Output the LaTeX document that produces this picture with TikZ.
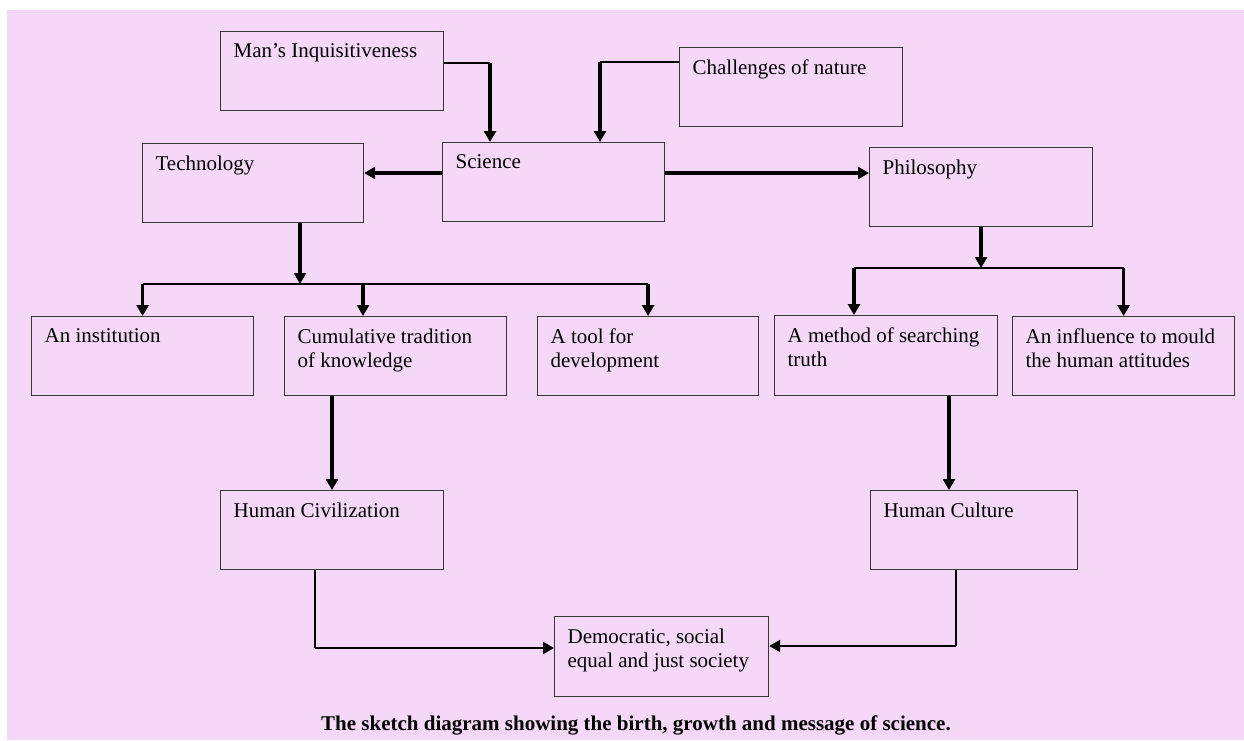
\documentclass[tikz,border=0pt]{standalone}
\usepackage{fontspec}
\setmainfont{Liberation Serif}
\usetikzlibrary{arrows.meta,calc}
\definecolor{bgpink}{RGB}{245,216,248}
\definecolor{boxc}{RGB}{55,55,55}
\newcommand{\bxt}[3]{\parbox[t][#2][t]{#1}{\vspace*{12pt}\leftskip=13pt\relax\parindent=0pt\rule{0pt}{14pt}#3}}
\begin{document}
\begin{tikzpicture}[x=1pt,y=-1pt,
  bx/.style={draw=boxc, line width=1.2pt, inner sep=0pt, anchor=north west, font=\fontsize{21}{24}\selectfont},
  thk/.style={line width=3.4pt, -{Triangle[length=11pt,width=12pt]}},
  thn/.style={line width=1.4pt},
  thna/.style={line width=2.2pt, -{Triangle[length=11pt,width=12pt]}}]
\fill[white] (0,0) rectangle (1244,740);
\fill[bgpink] (7,10) rectangle (1244,740);
\useasboundingbox (0,0) rectangle (1244,740);

\node[bx] (man) at (220,31) {\bxt{223pt}{79pt}{Man’s Inquisitiveness}};
\node[bx] (chal) at (679,47) {\bxt{223pt}{79pt}{Challenges of nature}};
\node[bx] (sci) at (442,142) {\bxt{222pt}{79pt}{Science}};
\node[bx] (tech) at (142,143) {\bxt{221pt}{79pt}{Technology}};
\node[bx] (phil) at (869,147) {\bxt{223pt}{79pt}{Philosophy}};
\node[bx] (inst) at (31,316) {\bxt{222pt}{79pt}{An institution}};
\node[bx] (cum) at (284,316) {\bxt{222pt}{79pt}{Cumulative tradition\\of knowledge}};
\node[bx] (tool) at (537,316) {\bxt{221pt}{79pt}{A tool for\\development}};
\node[bx] (meth) at (774,315) {\bxt{223pt}{80pt}{A method of searching\\truth}};
\node[bx] (infl) at (1012,316) {\bxt{222pt}{79pt}{An influence to mould\\the human attitudes}};
\node[bx] (civ) at (220,490) {\bxt{223pt}{79pt}{Human Civilization}};
\node[bx] (cult) at (870,490) {\bxt{207pt}{79pt}{Human Culture}};
\node[bx] (dem) at (554,616) {\bxt{214pt}{80pt}{Democratic, social\\equal and just society}};

\node[font=\bfseries\fontsize{21}{24}\selectfont, anchor=base, inner sep=0pt] (cap) at (636,730) {The sketch diagram showing the birth, growth and message of science.};

% inputs to science
\coordinate (j1) at (490,63);
\draw[thn] (man.east |- j1) -- (j1);
\draw[thk] (j1) -- (j1 |- sci.north);
\coordinate (j2) at (600,62);
\draw[thn] (chal.west |- j2) -- (j2);
\draw[thk] (j2) -- (j2 |- sci.north);
% science outputs
\coordinate (j3) at (553,173);
\draw[thk] (sci.west |- j3) -- (tech.east |- j3);
\draw[thk] (sci.east |- j3) -- (phil.west |- j3);
% technology bus
\coordinate (tb) at (300,284);
\draw[thk] (tech.south -| tb) -- (tb);
\draw[thn] (inst.north |- tb) -- (tool.north |- tb);
\draw[thk] (inst.north |- tb) -- (inst.north);
\coordinate (tc) at (363,284);
\draw[thk] (tc) -- (tc |- cum.north);
\draw[thk] (tool.north |- tb) -- (tool.north);
% philosophy bus
\coordinate (pm) at (854,268);
\draw[thk] (phil.south) -- (phil.south |- pm);
\draw[thn] (pm) -- (infl.north |- pm);
\draw[thk] (pm) -- (pm |- meth.north);
\draw[thk] (infl.north |- pm) -- (infl.north);
% to civilization / culture
\coordinate (k1) at (332,400);
\draw[thk] (k1 |- cum.south) -- (k1 |- civ.north);
\coordinate (k2) at (949,400);
\draw[thk] (k2 |- meth.south) -- (k2 |- cult.north);
% to democratic society
\coordinate (d1) at (315,648);
\draw[thn] (d1 |- civ.south) -- (d1);
\draw[thna] (d1) -- (dem.west |- d1);
\coordinate (d2) at (956,646);
\draw[thn] (d2 |- cult.south) -- (d2);
\draw[thna] (d2) -- (dem.east |- d2);
\end{tikzpicture}
\end{document}
